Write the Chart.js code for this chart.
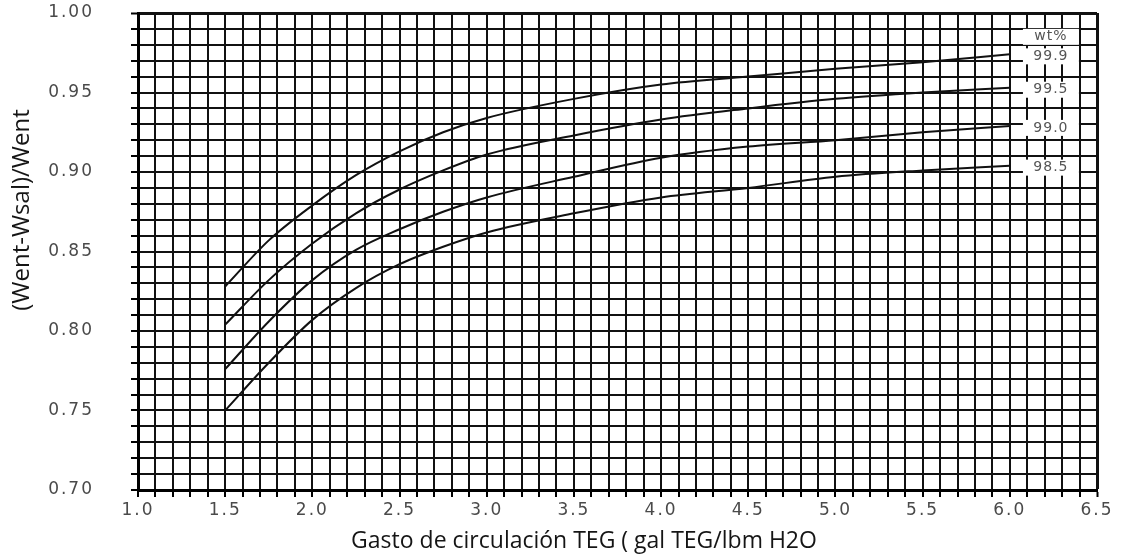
<!DOCTYPE html>
<html>
<head>
<meta charset="utf-8">
<script src="https://cdn.jsdelivr.net/npm/chart.js@4.4.1/dist/chart.umd.min.js"></script>
<style>
html, body { margin: 0; padding: 0; background: #fff; }
</style>
</head>
<body>
<canvas id="myChart" width="1123" height="558"></canvas>
<script>
// gasto de circulacion TEG (gal TEG / lbm H2O)
var xValues = [1.5, 1.75, 2.0, 2.25, 2.5, 2.75, 3.0, 3.5, 4.0, 4.5, 5.0, 5.5, 6.0];

// (Went-Wsal)/Went for each TEG purity
var w999 = [0.828, 0.857, 0.879, 0.898, 0.913, 0.925, 0.934, 0.946, 0.955, 0.960, 0.965, 0.969, 0.974];
var w995 = [0.804, 0.832, 0.855, 0.874, 0.889, 0.901, 0.911, 0.923, 0.933, 0.940, 0.946, 0.950, 0.953];
var w990 = [0.776, 0.806, 0.832, 0.851, 0.864, 0.875, 0.884, 0.897, 0.909, 0.916, 0.920, 0.925, 0.929];
var w985 = [0.750, 0.780, 0.807, 0.827, 0.842, 0.853, 0.862, 0.874, 0.884, 0.890, 0.897, 0.901, 0.904];

var seriesNames = ['99.9', '99.5', '99.0', '98.5'];
var seriesData = [w999, w995, w990, w985];
var legendTitle = 'wt%';

var xTitle = 'Gasto de circulación TEG ( gal TEG/lbm H2O';
var yTitle = '(Went-Wsal)/Went';

function pts(arr) {
    var out = [];
    for (var i = 0; i < xValues.length; i++) {
        out.push({ x: xValues[i], y: arr[i] });
    }
    return out;
}

function near(a, b) {
    return Math.abs(a - b) < 1e-6;
}

var datasets = [];
for (var i = 0; i < seriesNames.length; i++) {
    datasets.push({
        label: seriesNames[i],
        data: pts(seriesData[i]),
        borderColor: '#111',
        borderWidth: 2,
        pointRadius: 0,
        cubicInterpolationMode: 'monotone',
        fill: false
    });
}

// spaced-out tick digits like the scanned chart
var tickSpacing = {
    id: 'tickSpacing',
    beforeDraw: function (chart) {
        chart.ctx.letterSpacing = '2px';
    },
    beforeDatasetsDraw: function (chart) {
        chart.ctx.letterSpacing = '0px';
    }
};

// wt% labels at the right end of the curves
var curveLabels = {
    id: 'curveLabels',
    afterDatasetsDraw: function (chart) {
        var ctx = chart.ctx;
        var xs = chart.scales.x;
        var ys = chart.scales.y;
        var cx = xs.getPixelForValue(6.23);
        ctx.save();
        ctx.font = '14px "DejaVu Sans"';
        ctx.letterSpacing = '1px';
        ctx.textAlign = 'center';
        ctx.textBaseline = 'middle';

        var rows = [{ t: legendTitle, y: ys.getPixelForValue(0.985) }];
        for (var i = 0; i < seriesNames.length; i++) {
            var d = seriesData[i];
            rows.push({ t: seriesNames[i], y: ys.getPixelForValue(d[d.length - 1]) + 2 });
        }
        rows.forEach(function (r) {
            ctx.fillStyle = '#fff';
            ctx.fillRect(cx - 27, r.y - 8, 56, 16);
            ctx.fillStyle = '#555';
            ctx.fillText(r.t, cx + 1, r.y);
        });
        ctx.restore();
    }
};

// axis titles, placed like the original
var axisTitles = {
    id: 'axisTitles',
    afterDraw: function (chart) {
        var ctx = chart.ctx;
        ctx.save();
        ctx.letterSpacing = '0px';
        ctx.fillStyle = '#151515';
        ctx.textAlign = 'center';
        ctx.textBaseline = 'middle';
        ctx.font = '23px "Open Sans"';
        ctx.fillText(xTitle, 584, 541);

        ctx.font = '24px "Open Sans"';
        ctx.translate(22, 210);
        ctx.rotate(-Math.PI / 2);
        ctx.fillText(yTitle, 0, 0);
        ctx.restore();
    }
};

new Chart('myChart', {
    type: 'line',
    data: { datasets: datasets },
    options: {
        responsive: false,
        animation: false,
        devicePixelRatio: 1,
        layout: { padding: { top: 13, right: 26, left: 0, bottom: 0 } },
        plugins: {
            legend: { display: false },
            tooltip: { enabled: false }
        },
        scales: {
            x: {
                type: 'linear',
                min: 1.0,
                max: 6.5,
                afterFit: function (s) {
                    s.height = 68;
                    s.paddingLeft = 0;
                    s.paddingRight = 0;
                },
                border: { display: true, color: '#000', width: 3 },
                grid: {
                    color: '#111',
                    lineWidth: function (c) {
                        return c.tick && near(c.tick.value, 6.5) ? 3 : 2;
                    },
                    tickColor: '#000',
                    tickLength: 7,
                    tickWidth: 2
                },
                ticks: {
                    stepSize: 0.1,
                    autoSkip: false,
                    maxRotation: 0,
                    padding: 3,
                    color: '#4a4a4a',
                    font: { family: 'DejaVu Sans', size: 17 },
                    callback: function (v) {
                        return near(v * 2, Math.round(v * 2)) ? Number(v).toFixed(1) : '';
                    }
                }
            },
            y: {
                min: 0.70,
                max: 1.00,
                afterFit: function (s) {
                    s.width = 138;
                    s.paddingTop = 0;
                    s.paddingBottom = 0;
                },
                border: { display: true, color: '#000', width: 3 },
                grid: {
                    color: '#111',
                    lineWidth: function (c) {
                        return c.tick && near(c.tick.value, 1.0) ? 3 : 2;
                    },
                    tickColor: '#000',
                    tickLength: 7,
                    tickWidth: 2
                },
                ticks: {
                    stepSize: 0.01,
                    autoSkip: false,
                    padding: 37,
                    color: '#4a4a4a',
                    font: { family: 'DejaVu Sans', size: 17 },
                    callback: function (v) {
                        return near(v * 20, Math.round(v * 20)) ? Number(v).toFixed(2) : '';
                    }
                }
            }
        }
    },
    plugins: [tickSpacing, curveLabels, axisTitles]
});
</script>
</body>
</html>
